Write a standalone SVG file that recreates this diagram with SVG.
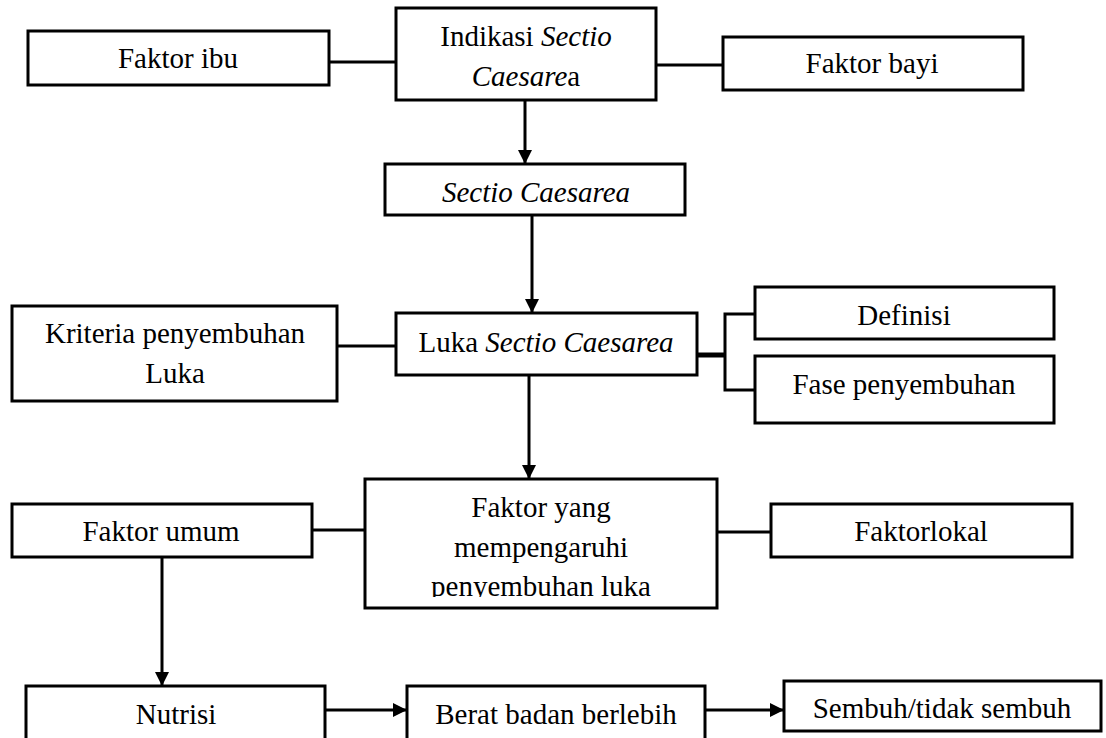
<svg xmlns="http://www.w3.org/2000/svg" width="1106" height="738" viewBox="0 0 1106 738">
<style>
  .box { fill: #ffffff; stroke: #000000; stroke-width: 3; }
  .t { font-family: "Liberation Serif", "Times New Roman", serif; font-size: 29px; fill: #000000; text-anchor: middle; }
  .i { font-style: italic; }
  .ln { fill: none; stroke: #000000; stroke-width: 3; }
  .arr { fill: none; stroke: #000000; stroke-width: 3; marker-end: url(#ah); }
</style>
<defs>
  <marker id="ah" viewBox="0 0 14 14" markerWidth="14" markerHeight="14" refX="14" refY="7" orient="auto" markerUnits="userSpaceOnUse">
    <path d="M0,0 L14,7 L0,14 z" fill="#000000"/>
  </marker>
  <clipPath id="clipFy">
    <rect x="365" y="479" width="352" height="118"/>
  </clipPath>
</defs>
<rect width="1106" height="738" fill="#ffffff"/>

<g id="connectors">
  <line class="ln" x1="329" y1="62" x2="396" y2="62"/>
  <line class="ln" x1="656" y1="65" x2="723" y2="65"/>
  <line class="arr" x1="525" y1="100" x2="525" y2="164"/>
  <line class="arr" x1="532" y1="215" x2="532" y2="313"/>
  <line class="ln" x1="334" y1="346" x2="396" y2="346"/>
  <line class="ln" x1="697" y1="355" x2="726" y2="355" style="stroke-width:5"/>
  <polyline class="ln" points="755,314 725,314 725,390 755,390"/>
  <line class="arr" x1="529" y1="375" x2="529" y2="479"/>
  <line class="ln" x1="312" y1="530" x2="365" y2="530"/>
  <line class="ln" x1="717" y1="532" x2="771" y2="532"/>
  <line class="arr" x1="162" y1="557" x2="162" y2="686"/>
  <line class="arr" x1="325" y1="710" x2="407" y2="710"/>
  <line class="arr" x1="705" y1="710" x2="784" y2="710"/>
</g>

<g id="faktor-ibu">
  <rect class="box" x="28" y="31" width="301" height="54"/>
  <text class="t" x="178" y="68">Faktor ibu</text>
</g>

<g id="indikasi">
  <rect class="box" x="396" y="8" width="260" height="92"/>
  <text class="t" x="526" y="46">Indikasi <tspan class="i">Sectio</tspan></text>
  <text class="t" x="526" y="86"><tspan class="i">Caesare</tspan>a</text>
</g>

<g id="faktor-bayi">
  <rect class="box" x="723" y="37" width="300" height="53"/>
  <text class="t" x="872" y="73">Faktor bayi</text>
</g>

<g id="sectio">
  <rect class="box" x="385" y="164" width="300" height="51"/>
  <text class="t i" x="536" y="202">Sectio Caesarea</text>
</g>

<g id="luka">
  <rect class="box" x="396" y="313" width="301" height="62"/>
  <text class="t" x="546" y="352">Luka <tspan class="i">Sectio Caesarea</tspan></text>
</g>

<g id="kriteria">
  <rect class="box" x="12" y="306" width="325" height="95"/>
  <text class="t" x="175" y="343">Kriteria penyembuhan</text>
  <text class="t" x="175" y="383">Luka</text>
</g>

<g id="definisi">
  <rect class="box" x="755" y="287" width="299" height="52"/>
  <text class="t" x="904" y="325">Definisi</text>
</g>

<g id="fase">
  <rect class="box" x="755" y="356" width="299" height="67"/>
  <text class="t" x="904" y="394">Fase penyembuhan</text>
</g>

<g id="faktor-yang">
  <rect class="box" x="365" y="479" width="352" height="129"/>
  <g clip-path="url(#clipFy)">
    <text class="t" x="541" y="517">Faktor yang</text>
    <text class="t" x="541" y="557">mempengaruhi</text>
    <text class="t" x="541" y="596">penyembuhan luka</text>
  </g>
</g>

<g id="faktor-umum">
  <rect class="box" x="12" y="504" width="300" height="53"/>
  <text class="t" x="161" y="541">Faktor umum</text>
</g>

<g id="faktorlokal">
  <rect class="box" x="771" y="504" width="301" height="53"/>
  <text class="t" x="921" y="541">Faktorlokal</text>
</g>

<g id="nutrisi">
  <rect class="box" x="26" y="686" width="299" height="60"/>
  <text class="t" x="176" y="724">Nutrisi</text>
</g>

<g id="berat">
  <rect class="box" x="407" y="686" width="298" height="60"/>
  <text class="t" x="556" y="724">Berat badan berlebih</text>
</g>

<g id="sembuh">
  <rect class="box" x="784" y="681" width="317" height="50"/>
  <text class="t" x="942" y="718">Sembuh/tidak sembuh</text>
</g>
</svg>
